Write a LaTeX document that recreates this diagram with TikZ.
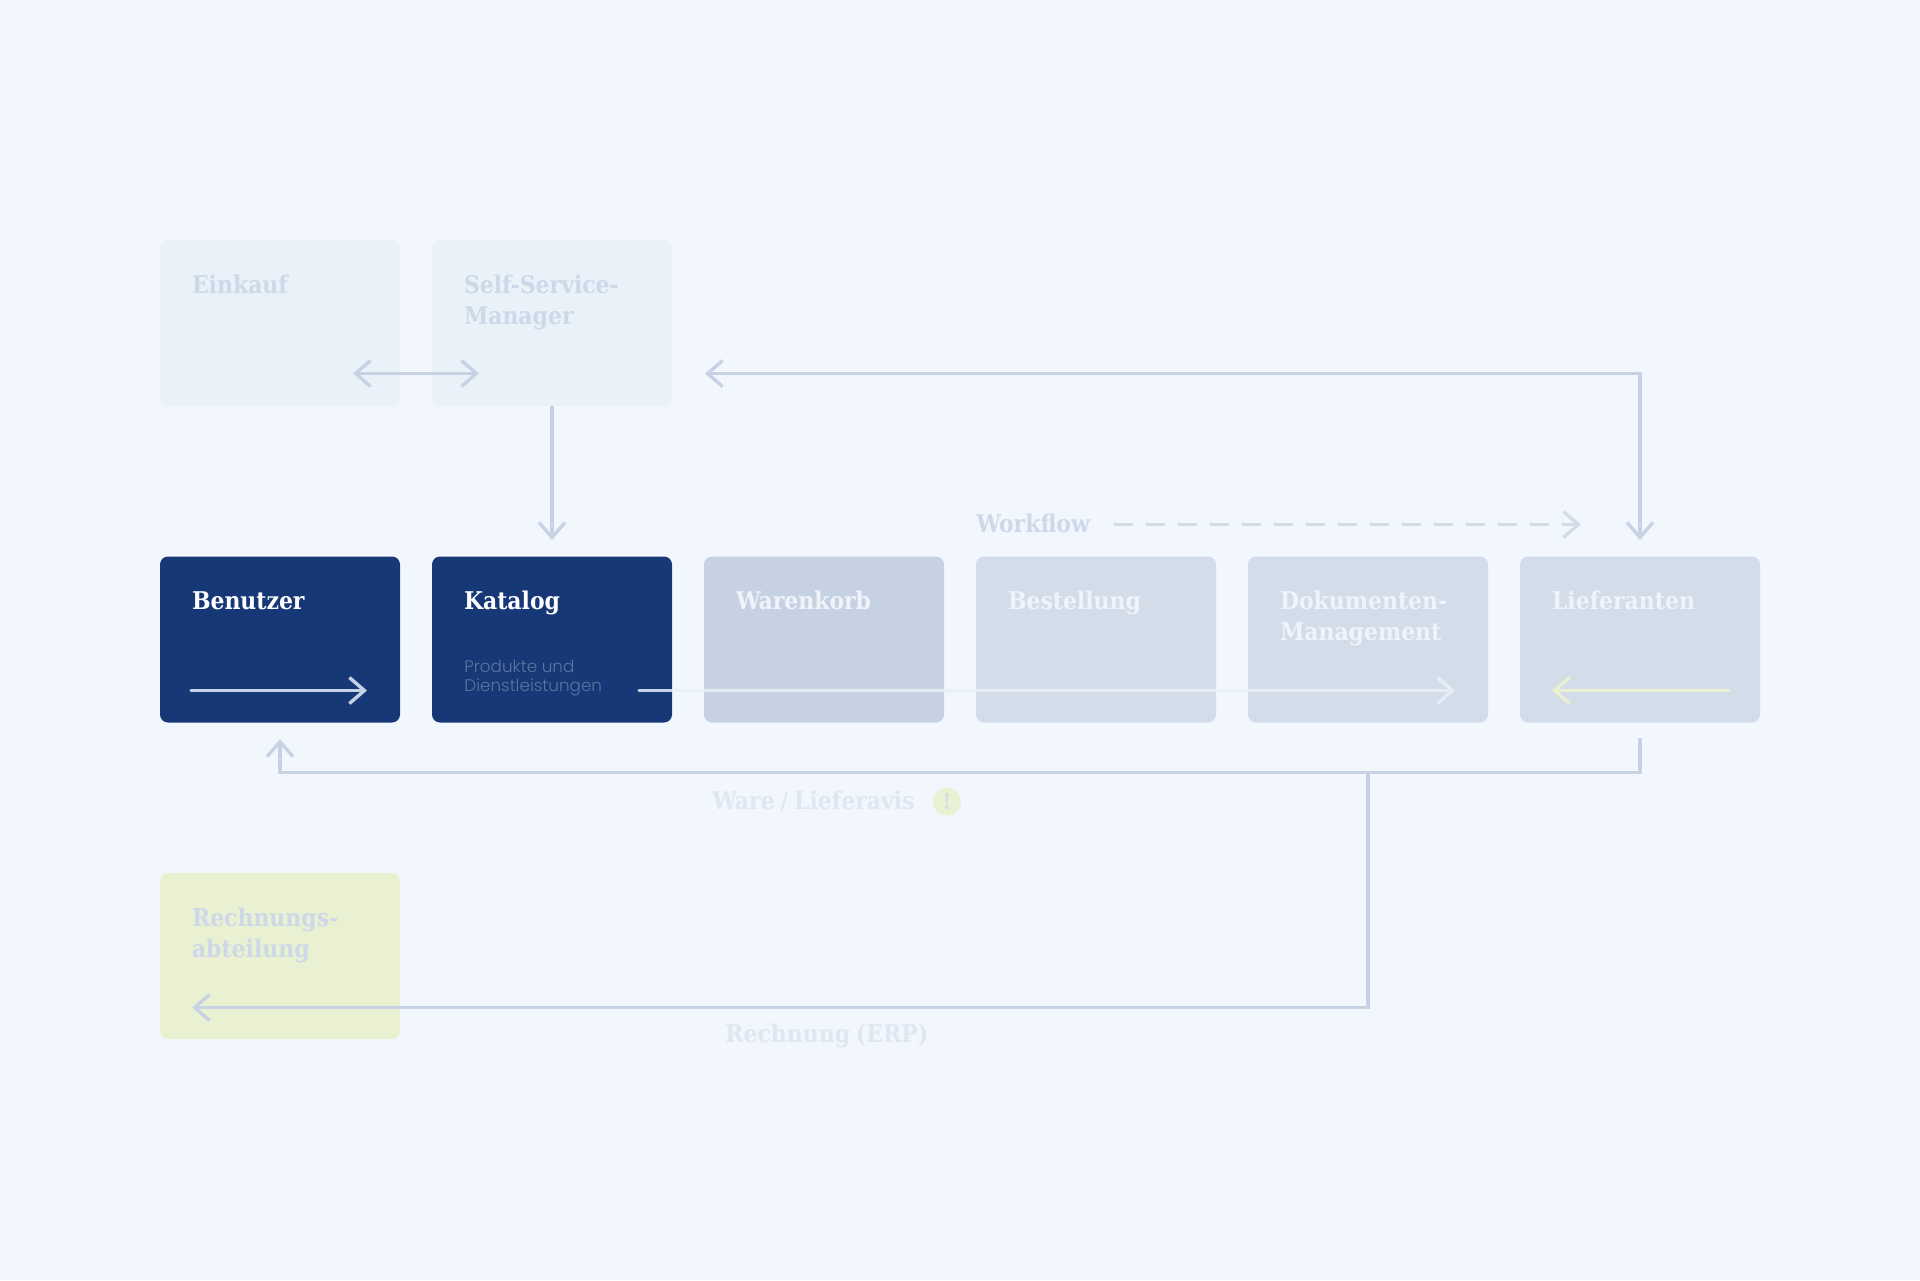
\documentclass[tikz,border=0pt]{standalone}
\usepackage{fontspec}
\setmainfont[WordSpace=0.75]{DejaVu Serif Condensed}
\newfontfamily\lightfont{Poppins Light}
\usetikzlibrary{arrows.meta}
\definecolor{page}{HTML}{F2F7FE}
\definecolor{pale}{HTML}{EAF2F9}
\definecolor{navy}{HTML}{163877}
\definecolor{midblue}{HTML}{C6D2E3}
\definecolor{softblue}{HTML}{D3DDEA}
\definecolor{lime}{HTML}{EAF1D2}
\definecolor{wire}{HTML}{C7D3E4}
\definecolor{paleink}{HTML}{CDD8E8}
\definecolor{faintink}{HTML}{E0E7F2}
\definecolor{offwhite}{HTML}{F0F4FA}
\definecolor{paleline}{HTML}{E9EFF7}
\newcommand{\cardtext}[1]{\parbox[c][83pt][t]{120pt}{\leftskip=16pt\rightskip=0pt plus 1fil\rule{0pt}{26.5pt}#1}}
\begin{document}
\begin{tikzpicture}[x=0.5pt,y=-0.5pt,
    main node/.style={rounded corners=4pt,inner sep=0pt,outer sep=0pt,font=\fontsize{12.2}{15.5}\selectfont\bfseries},
    wire line/.style={draw=wire,line width=1.7pt,-{Straight Barb[length=7.5pt,width=13pt]}},
    caption/.style={anchor=base west,inner sep=0pt,font=\fontsize{12.2}{15.5}\selectfont\bfseries}]
    \fill[page] (0,0) rectangle (1920,1280);
    \useasboundingbox (0,0) rectangle (1920,1280);

    \node[main node, fill=pale, text=paleink] at (280,323) (einkauf) {\cardtext{Einkauf}};
    \node[main node, fill=pale, text=paleink] at (552,323) (manager) {\cardtext{Self-Service-\\Manager}};
    \node[main node, fill=navy, text=white] at (280,639.5) (benutzer) {\cardtext{Benutzer}};
    \node[main node, fill=navy, text=white] at (552,639.5) (katalog) {\cardtext{Katalog}};
    \node[main node, fill=midblue, text=offwhite] at (824,639.5) (warenkorb) {\cardtext{Warenkorb}};
    \node[main node, fill=softblue, text=offwhite] at (1096,639.5) (bestellung) {\cardtext{Bestellung}};
    \node[main node, fill=softblue, text=offwhite] at (1368,639.5) (dokumente) {\cardtext{Dokumenten-\\Management}};
    \node[main node, fill=softblue, text=offwhite] at (1640,639.5) (lieferanten) {\cardtext{Lieferanten}};
    \node[main node, fill=lime, text=paleink] at (280,956) (rechnung) {\cardtext{Rechnungs-\\abteilung}};

    \node[anchor=base west,inner sep=0pt,text=white,opacity=0.3,align=left,font=\lightfont\fontsize{8.4}{9.7}\selectfont] at (464,691.5) (produkte) {Produkte und\\Dienstleistungen};
    \node[caption, text=paleink] at (976,532) (workflow) {Workflow};
    \node[caption, text=faintink] at (712,809) (ware) {Ware / Lieferavis};
    \node[caption, text=faintink] at (725,1042) (erp) {Rechnung (ERP)};
    \node[circle,fill=lime,minimum size=14pt,inner sep=0pt,text=softblue,font=\fontsize{11}{11}\selectfont\bfseries] at (947,801.5) (hinweis) {!};

    % free ends of the connectors
    \coordinate (pair left) at (353,373.5);
    \coordinate (pair right) at (479,373.5);
    \coordinate (back end) at (705,373.5);
    \coordinate (back corner) at (1640,373.5);
    \coordinate (katalog in) at (552,540);
    \coordinate (lieferanten in) at (1640,540);
    \coordinate (flow start) at (1114,524.5);
    \coordinate (flow end) at (1581,524.5);
    \coordinate (benutzer a) at (191,690.5);
    \coordinate (benutzer b) at (367,690.5);
    \coordinate (katalog a) at (639,690.5);
    \coordinate (katalog b) at (1455,690.5);
    \coordinate (liefer a) at (1729,690.5);
    \coordinate (liefer b) at (1552,690.5);
    \coordinate (ware start) at (1640,738);
    \coordinate (ware corner) at (1640,772.5);
    \coordinate (ware branch) at (1368,772.5);
    \coordinate (ware left) at (280,772.5);
    \coordinate (ware end) at (280,739);
    \coordinate (erp corner) at (1368,1007.5);
    \coordinate (erp end) at (192,1007.5);

    \draw[wire line, {Straight Barb[length=7.5pt,width=13pt]}-{Straight Barb[length=7.5pt,width=13pt]}] (pair left) -- (pair right);
    \draw[wire line] (manager.south) -- (katalog in);
    \draw[wire line, {Straight Barb[length=7.5pt,width=13pt]}-{Straight Barb[length=7.5pt,width=13pt]}] (lieferanten in) -- (back corner) -- (back end);
    \draw[wire line] (ware start) -- (ware corner) -- (ware left) -- (ware end);
    \draw[wire line] (ware branch) -- (erp corner) -- (erp end);
    \draw[wire line, draw=softblue, dash pattern=on 9.5pt off 6.5pt] (flow start) -- (flow end);
    \draw[wire line, line cap=round] (benutzer a) -- (benutzer b);
    \draw[wire line, draw=paleline, line cap=round, opacity=0.85] (katalog a) -- (katalog b);
    \draw[wire line, draw=lime, line cap=round] (liefer a) -- (liefer b);
\end{tikzpicture}
\end{document}
